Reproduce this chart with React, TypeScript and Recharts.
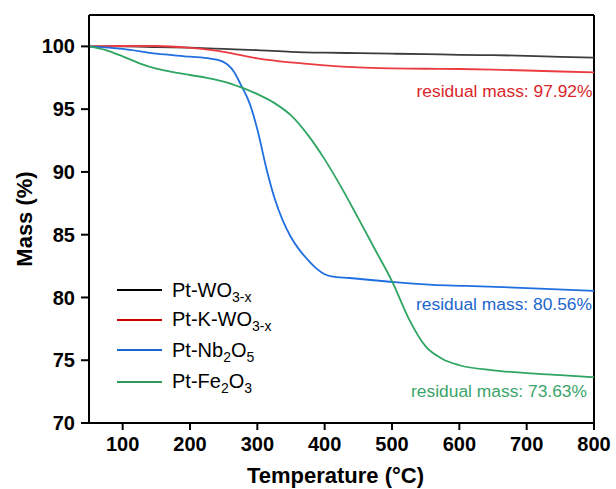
import React from 'react';
import { LineChart, Line, XAxis, YAxis, ReferenceLine, ReferenceDot, Label } from 'recharts';

const FONT = '"Liberation Sans", Arial, sans-serif';

const xTicks = [100, 200, 300, 400, 500, 600, 700, 800];
const yTicks = [70, 75, 80, 85, 90, 95, 100];

const wo3Temp = [50, 100, 150, 200, 250, 300, 350, 400, 450, 500, 550, 600, 650, 700, 750, 800];
const wo3Mass = [100, 100, 99.95, 99.9, 99.8, 99.7, 99.57, 99.5, 99.46, 99.42, 99.38, 99.33, 99.3, 99.25, 99.16, 99.1];

const kwo3Temp = [50, 100, 150, 200, 250, 300, 350, 400, 450, 500, 550, 600, 650, 700, 750, 800];
const kwo3Mass = [100, 100.03, 100.03, 99.88, 99.57, 99.05, 98.72, 98.48, 98.32, 98.25, 98.22, 98.2, 98.15, 98.08, 98.0, 97.93];

const nbTemp = [50, 100, 150, 200, 230, 250, 265, 275, 289, 300, 314, 325, 338, 350, 363, 375, 388, 400, 410, 437, 497, 560, 610, 710, 800];
const nbMass = [100, 99.8, 99.42, 99.18, 99.02, 98.75, 98.0, 97.0, 95.4, 93.4, 90.15, 88.0, 86.1, 84.8, 83.75, 83.0, 82.3, 81.85, 81.68, 81.55, 81.25, 81.0, 80.92, 80.73, 80.52];

const feTemp = [50, 75, 100, 125, 150, 175, 200, 225, 250, 275, 300, 325, 350, 375, 400, 425, 450, 475, 500, 525, 550, 575, 600, 650, 700, 750, 800];
const feMass = [100, 99.7, 99.2, 98.65, 98.22, 97.95, 97.72, 97.5, 97.2, 96.75, 96.2, 95.5, 94.5, 92.95, 91.0, 88.75, 86.3, 83.8, 81.3, 78.3, 76.1, 75.1, 74.6, 74.2, 73.98, 73.82, 73.65];

const zip = (t: number[], m: number[]) => t.map((temp, i) => ({ temp, mass: m[i] }));

const series = [
  { key: 'wo3', data: zip(wo3Temp, wo3Mass), color: '#3c3c3c', legendColor: '#000000', base: 'Pt-WO', parts: [['3-x', true]] as [string, boolean][] },
  { key: 'kwo3', data: zip(kwo3Temp, kwo3Mass), color: '#ec3b40', legendColor: '#cc0000', base: 'Pt-K-WO', parts: [['3-x', true]] as [string, boolean][] },
  { key: 'nb', data: zip(nbTemp, nbMass), color: '#1f6fe0', legendColor: '#1a66d6', base: 'Pt-Nb', parts: [['2', true], ['O', false], ['5', true]] as [string, boolean][] },
  { key: 'fe', data: zip(feTemp, feMass), color: '#2fa562', legendColor: '#2e9a5a', base: 'Pt-Fe', parts: [['2', true], ['O', false], ['3', true]] as [string, boolean][] },
];

const residuals = [
  { value: 97.92, text: 'residual mass: 97.92%', color: '#d9262c', dx: -1.5, dy: 25 },
  { value: 80.56, text: 'residual mass: 80.56%', color: '#2166cc', dx: -2, dy: 19.5 },
  { value: 73.63, text: 'residual mass: 73.63%', color: '#3aa469', dx: -7, dy: 20 },
];

const legendTops = [290, 319.5, 350, 381.5];

export default function App() {
  return (
    <div style={{ position: 'absolute', left: 0, top: 0, width: 616, height: 489, background: '#fff' }}>
      <LineChart width={616} height={489} margin={{ top: 15, right: 22, bottom: 36, left: 0 }}>
        <XAxis
          type="number"
          dataKey="temp"
          domain={[50, 800]}
          ticks={xTicks}
          allowDataOverflow
          height={30}
          tickSize={7}
          tickMargin={7}
          axisLine={{ stroke: '#000', strokeWidth: 2 }}
          tickLine={{ stroke: '#000', strokeWidth: 2 }}
          tick={{ fontSize: 20, fontWeight: 'bold', fill: '#000', fontFamily: FONT }}
        >
          <Label
            content={(p: any) => {
              const vb = p.viewBox || { x: 89, y: 423, width: 505 };
              return (
                <text x={vb.x + vb.width / 2 - 6} y={483} textAnchor="middle" fontSize={22} fontWeight="bold" fontFamily={FONT} fill="#000">
                  Temperature (°C)
                </text>
              );
            }}
          />
        </XAxis>
        <YAxis
          type="number"
          domain={[70, 102.5]}
          ticks={yTicks}
          allowDataOverflow
          width={89}
          tickSize={8}
          tickMargin={6}
          axisLine={{ stroke: '#000', strokeWidth: 2 }}
          tickLine={{ stroke: '#000', strokeWidth: 2 }}
          tick={{ fontSize: 20, fontWeight: 'bold', fill: '#000', fontFamily: FONT }}
        >
          <Label
            content={() => (
              <text x={32} y={219} transform="rotate(-90 32 219)" textAnchor="middle" fontSize={22} fontWeight="bold" fontFamily={FONT} fill="#000">
                Mass (%)
              </text>
            )}
          />
        </YAxis>
        <ReferenceLine y={102.5} stroke="#000" strokeWidth={2} />
        <ReferenceLine x={800} stroke="#000" strokeWidth={2} />
        {series.map((s) => (
          <Line
            key={s.key}
            data={s.data}
            dataKey="mass"
            type="monotone"
            stroke={s.color}
            strokeWidth={1.8}
            dot={false}
            isAnimationActive={false}
          />
        ))}
        {residuals.map((r) => (
          <ReferenceDot
            key={r.text}
            x={800}
            y={r.value}
            r={0}
            fill="none"
            stroke="none"
            label={(p: any) => {
              const vb = p.viewBox || { x: 594, y: 0 };
              return (
                <text x={vb.x + r.dx} y={vb.y + r.dy} textAnchor="end" fontSize={17.4} fontFamily={FONT} fill={r.color}>
                  {r.text}
                </text>
              );
            }}
          />
        ))}
      </LineChart>
      {series.map((s, i) => (
        <div
          key={s.key}
          style={{
            position: 'absolute',
            left: 117,
            top: legendTops[i] - 15,
            height: 30,
            display: 'flex',
            alignItems: 'center',
            fontFamily: FONT,
            fontSize: 20,
            color: '#000',
            whiteSpace: 'nowrap',
          }}
        >
          <span style={{ display: 'inline-block', width: 45, height: 0, borderTop: `2px solid ${s.legendColor}`, marginRight: 10 }} />
          <span>
            {s.base}
            {s.parts.map(([t, sub], j) =>
              sub ? (
                <span key={j} style={{ fontSize: 14, position: 'relative', top: 5 }}>{t}</span>
              ) : (
                <span key={j}>{t}</span>
              )
            )}
          </span>
        </div>
      ))}
    </div>
  );
}
